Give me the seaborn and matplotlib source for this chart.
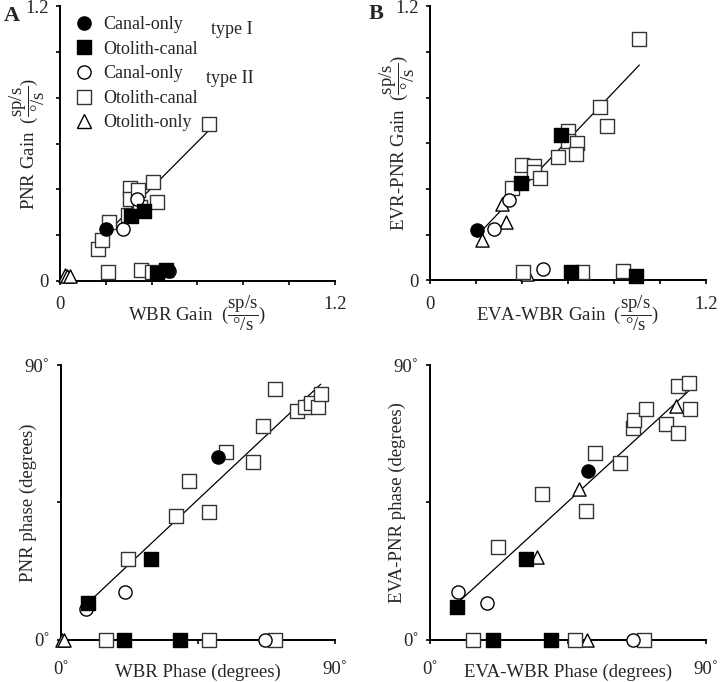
import matplotlib
matplotlib.use("Agg")
import matplotlib.pyplot as plt
from matplotlib.lines import Line2D
import seaborn as sns
import pandas as pd
import numpy as np

sns.set_style("ticks")
plt.rcParams["font.family"] = ["Liberation Serif", "DejaVu Serif"]
plt.rcParams["mathtext.fontset"] = "custom"
plt.rcParams["mathtext.rm"] = "Liberation Serif"
plt.rcParams["mathtext.it"] = "Liberation Serif:italic"

# cell groups: type I (filled) / type II (open)
groups = ["I canal", "I otolith-canal", "II canal", "II otolith-canal", "II otolith"]
legend_labels = ["Canal-only", "Otolith-canal", "Canal-only", "Otolith-canal", "Otolith-only"]
group_marker = {"I canal": "o", "I otolith-canal": "s", "II canal": "o",
                "II otolith-canal": "s", "II otolith": "^"}
group_face = {"I canal": "black", "I otolith-canal": "black", "II canal": "white",
              "II otolith-canal": "white", "II otolith": "white"}

# ---- A: WBR gain vs PNR gain (points used for the fit)
a_x = [0.200, 0.308, 0.367, 0.276, 0.335,
       0.167, 0.182, 0.215, 0.305, 0.305, 0.298, 0.342, 0.349, 0.404, 0.422, 0.650]
a_y = [0.227, 0.283, 0.306, 0.227, 0.357,
       0.141, 0.181, 0.258, 0.408, 0.360, 0.287, 0.399, 0.323, 0.430, 0.345, 0.687]
a_grp = ["I canal", "I otolith-canal", "I otolith-canal", "II canal", "II canal"] + ["II otolith-canal"] * 11
# A: cells without PNR response (near baseline)
a_base_x = [0.473, 0.422, 0.461, 0.476, 0.211, 0.352, 0.400, 0.020, 0.030, 0.045]
a_base_y = [0.047, 0.035, 0.047, 0.044, 0.039, 0.050, 0.039, 0.025, 0.022, 0.022]
a_base_grp = ["I canal", "I otolith-canal", "I otolith-canal", "II canal",
              "II otolith-canal", "II otolith-canal", "II otolith-canal",
              "II otolith", "II otolith", "II otolith"]

# ---- B: EVA-WBR gain vs EVR-PNR gain
b_x = [0.206, 0.396, 0.570, 0.280, 0.344, 0.228, 0.312, 0.329,
       0.399, 0.453, 0.453, 0.479, 0.357, 0.556, 0.602, 0.602, 0.639, 0.636, 0.740, 0.769, 0.911]
b_y = [0.222, 0.428, 0.635, 0.225, 0.350, 0.178, 0.333, 0.255,
       0.504, 0.502, 0.473, 0.448, 0.404, 0.540, 0.653, 0.610, 0.599, 0.555, 0.759, 0.677, 1.058]
b_grp = ["I canal", "I otolith-canal", "I otolith-canal", "II canal", "II canal",
         "II otolith", "II otolith", "II otolith"] + ["II otolith-canal"] * 13
b_base_x = [0.614, 0.897, 0.493, 0.424, 0.403, 0.660, 0.842]
b_base_y = [0.036, 0.020, 0.051, 0.026, 0.036, 0.036, 0.041]
b_base_grp = ["I otolith-canal", "I otolith-canal", "II canal", "II otolith",
              "II otolith-canal", "II otolith-canal", "II otolith-canal"]

# ---- C: WBR phase vs PNR phase (degrees)
c_x = [51.7, 8.9, 29.5, 8.3, 21.1,
       22.2, 37.7, 42.2, 48.8, 54.2, 63.0, 66.3, 70.3, 77.6, 80.2, 82.0, 84.5, 85.3]
c_y = [59.8, 12.2, 26.4, 10.0, 15.8,
       26.5, 40.6, 52.1, 41.8, 61.4, 58.4, 70.0, 82.0, 74.9, 76.4, 77.7, 76.4, 80.4]
c_grp = ["I canal", "I otolith-canal", "I otolith-canal", "II canal", "II canal"] + ["II otolith-canal"] * 13
c_base_x = [20.8, 39.2, 67.0, 14.9, 48.8, 70.3, 0.5, 1.0]
c_base_y = [0, 0, 0, 0, 0, 0, 0, 0]
c_base_grp = ["I otolith-canal", "I otolith-canal", "II canal", "II otolith-canal",
              "II otolith-canal", "II otolith-canal", "II otolith", "II otolith"]

# ---- D: EVA-WBR phase vs EVA-PNR phase (degrees)
d_x = [51.7, 8.7, 31.3, 9.2, 18.5, 34.8, 48.6, 80.3,
       22.3, 36.7, 50.9, 53.9, 62.0, 66.2, 66.6, 70.5, 77.0, 81.1, 81.1, 84.5, 84.9]
d_y = [55.4, 10.9, 26.5, 15.8, 12.0, 27.3, 49.3, 76.6,
       30.3, 47.7, 42.3, 61.1, 58.0, 69.5, 72.0, 75.6, 70.7, 67.9, 83.2, 84.2, 75.5]
d_grp = ["I canal", "I otolith-canal", "I otolith-canal", "II canal", "II canal",
         "II otolith", "II otolith", "II otolith"] + ["II otolith-canal"] * 13
d_base_x = [20.5, 39.5, 66.4, 51.1, 14.1, 47.3, 69.9]
d_base_y = [0, 0, 0, 0, 0, 0, 0]
d_base_grp = ["I otolith-canal", "I otolith-canal", "II canal", "II otolith",
              "II otolith-canal", "II otolith-canal", "II otolith-canal"]

gain_unit = r"($\dfrac{\mathrm{sp/s}}{\mathrm{°/s}}$)"
panels = [
    (a_x, a_y, a_grp, a_base_x, a_base_y, a_base_grp, "WBR Gain  " + gain_unit, "PNR Gain  " + gain_unit, "gain"),
    (b_x, b_y, b_grp, b_base_x, b_base_y, b_base_grp, "EVA-WBR Gain  " + gain_unit, "EVR-PNR Gain  " + gain_unit, "gain"),
    (c_x, c_y, c_grp, c_base_x, c_base_y, c_base_grp, "WBR Phase (degrees)", "PNR phase (degrees)", "phase"),
    (d_x, d_y, d_grp, d_base_x, d_base_y, d_base_grp, "EVA-WBR Phase (degrees)", "EVA-PNR phase (degrees)", "phase"),
]
positions = [
    [0.0833, 0.588, 0.382, 0.403],
    [0.5972, 0.589, 0.383, 0.402],
    [0.0843, 0.0616, 0.381, 0.4032],
    [0.5972, 0.0616, 0.383, 0.4032],
]

fig = plt.figure(figsize=(7.2, 6.82), dpi=100)

for i, ((x, y, grp, bx, by, bgrp, xlab, ylab, kind), pos) in enumerate(zip(panels, positions)):
    ax = fig.add_axes(pos)
    df = pd.DataFrame({"x": x + bx, "y": y + by, "grp": grp + bgrp})
    fit = pd.DataFrame({"x": x, "y": y})
    sns.regplot(data=fit, x="x", y="y", scatter=False, ci=None, ax=ax,
                line_kws={"color": "black", "lw": 0.9, "zorder": 2})
    # draw open symbols first, filled on top
    for g in groups[::-1]:
        sub = df[df["grp"] == g]
        edge = "#333333" if g == "II otolith-canal" else "black"
        sns.scatterplot(data=sub, x="x", y="y", ax=ax, marker=group_marker[g],
                        color=group_face[g], edgecolor=edge, linewidth=1.0,
                        s=90, clip_on=False, zorder=4, legend=False)
    if kind == "gain":
        ax.set_xlim(0, 1.2)
        ax.set_ylim(0, 1.2)
        ticks = np.linspace(0, 1.2, 7)
        ax.set_xticks(ticks, ["0", "", "", "", "", "", "1.2"])
        ax.set_yticks(ticks, ["0", "", "", "", "", "", "1.2"])
        ax.tick_params(axis="x", pad=8)
    else:
        ax.set_xlim(0, 90)
        ax.set_ylim(0, 90)
        ax.set_xticks([0, 45, 90], ["0˚", "", "90˚"])
        ax.set_yticks([0, 45, 90], ["0˚", "", "90˚"])
        ax.tick_params(axis="x", pad=12)
    ax.tick_params(axis="both", length=3, width=1.2, color="black", labelsize=13.5)
    ax.tick_params(axis="y", pad=5)
    sns.despine(ax=ax)
    for sp in ["left", "bottom"]:
        ax.spines[sp].set_linewidth(1.4)
        ax.spines[sp].set_color("black")
    ax.set_xlabel(xlab, fontsize=13.5)
    ax.set_ylabel(ylab, fontsize=13.5)
    ax.xaxis.set_label_coords(0.5, -0.118)
    ax.yaxis.set_label_coords(-0.118, 0.5)
    ax.xaxis.label.set_va("center")
    ax.yaxis.label.set_va("center")
    if i == 0:
        handles = []
        for g in groups:
            edge = "#333333" if g == "II otolith-canal" else "black"
            handles.append(Line2D([], [], ls="none", marker=group_marker[g], markersize=9.5,
                                  markerfacecolor=group_face[g], markeredgecolor=edge,
                                  markeredgewidth=1.0))
        ax.legend(handles, legend_labels, loc="upper left", bbox_to_anchor=(0.02, 0.99),
                  frameon=False, fontsize=13, handletextpad=0.5, labelspacing=0.42,
                  handlelength=1.2, borderaxespad=0)
        ax.text(0.624, 0.916, "type I", transform=ax.transAxes, fontsize=13, ha="center", va="center")
        ax.text(0.618, 0.735, "type II", transform=ax.transAxes, fontsize=13, ha="center", va="center")

fig.text(0.017, 0.977, "A", fontsize=16, fontweight="bold", ha="center", va="center")
fig.text(0.522, 0.980, "B", fontsize=16, fontweight="bold", ha="center", va="center")

fig.savefig("out.png", dpi=100)
